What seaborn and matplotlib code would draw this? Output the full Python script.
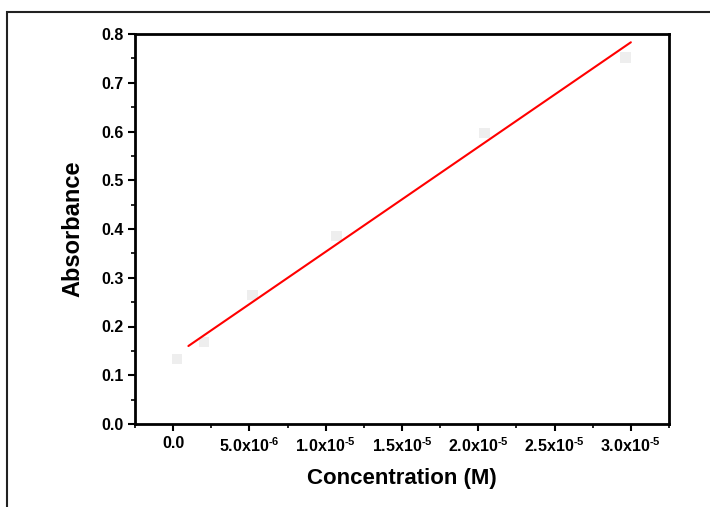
import matplotlib
matplotlib.use("Agg")
import matplotlib.pyplot as plt
import seaborn as sns
import pandas as pd
from matplotlib.ticker import MultipleLocator
from matplotlib.patches import Rectangle

conc = [2.6e-7, 2.0e-6, 5.2e-6, 1.07e-5, 2.04e-5, 2.965e-5]
absorb = [0.134, 0.168, 0.264, 0.386, 0.597, 0.752]
fit_x = [1.0e-6, 3.0e-5]
fit_y = [0.160, 0.783]
xticks = [0.0, 5.0e-6, 1.0e-5, 1.5e-5, 2.0e-5, 2.5e-5, 3.0e-5]
xtick_labels = ['0.0', r'5.0x10$^{\text{-6}}$', r'1.0x10$^{\text{-5}}$', r'1.5x10$^{\text{-5}}$',
                r'2.0x10$^{\text{-5}}$', r'2.5x10$^{\text{-5}}$', r'3.0x10$^{\text{-5}}$']
yticks = [0.0, 0.1, 0.2, 0.3, 0.4, 0.5, 0.6, 0.7, 0.8]

sns.set_style("white")
FONT = ['Liberation Sans', 'DejaVu Sans']
plt.rcParams['font.family'] = FONT
plt.rcParams['font.weight'] = 'bold'
plt.rcParams['text.color'] = 'black'
plt.rcParams['axes.labelcolor'] = 'black'
plt.rcParams['xtick.color'] = 'black'
plt.rcParams['ytick.color'] = 'black'
plt.rcParams['xtick.labelcolor'] = 'black'
plt.rcParams['ytick.labelcolor'] = 'black'
plt.rcParams['mathtext.fontset'] = 'custom'
plt.rcParams['mathtext.rm'] = 'Liberation Sans:bold'
plt.rcParams['mathtext.it'] = 'Liberation Sans:bold'
plt.rcParams['mathtext.bf'] = 'Liberation Sans:bold'

fig = plt.figure(figsize=(7.10, 5.07), dpi=100)
ax = fig.add_axes([135/710, 1-424/507, (669-135)/710, (424-34)/507])

df = pd.DataFrame({'c': conc, 'a': absorb})
fit = pd.DataFrame({'c': fit_x, 'a': fit_y})
sns.scatterplot(data=df, x='c', y='a', marker='s', s=55, color='#eeeeee',
                edgecolor='none', ax=ax, zorder=2)
sns.lineplot(data=fit, x='c', y='a', color='red', linewidth=1.5, ax=ax, zorder=3)

ax.set_xlim(-2.5e-6, 3.25e-5)
ax.set_ylim(0, 0.8)
ax.set_xticks(xticks)
ax.set_xticklabels(xtick_labels)
ax.xaxis.set_minor_locator(MultipleLocator(2.5e-6))
ax.set_yticks(yticks)
ax.set_yticklabels([f'{v:.1f}' for v in yticks])
ax.yaxis.set_minor_locator(MultipleLocator(0.05))

for s in ax.spines.values():
    s.set_visible(True)
    s.set_color('black')
    s.set_linewidth(2)

ax.tick_params(axis='both', which='major', direction='out', length=5, width=1.5,
               labelsize=11.5, color='black', labelcolor='black', pad=3,
               bottom=True, left=True, top=False, right=False)
ax.tick_params(axis='both', which='minor', direction='out', length=3, width=1.2,
               color='black', bottom=True, left=True, top=False, right=False)
ax.tick_params(axis='x', which='major', pad=4)
for lab in ax.get_xticklabels() + ax.get_yticklabels():
    lab.set_fontweight('bold')

ax.set_xlabel('Concentration (M)', fontsize=16, fontweight='bold', labelpad=9, color='black')
ax.set_ylabel('Absorbance', fontsize=17, fontweight='bold', labelpad=12, color='black')

# outer frame
fig.add_artist(Rectangle((7/710, -0.05), 1.1, 1-12/507+0.05, transform=fig.transFigure,
                         fill=False, edgecolor='#222222', linewidth=1.5))

fig.savefig('out.png', dpi=100)
